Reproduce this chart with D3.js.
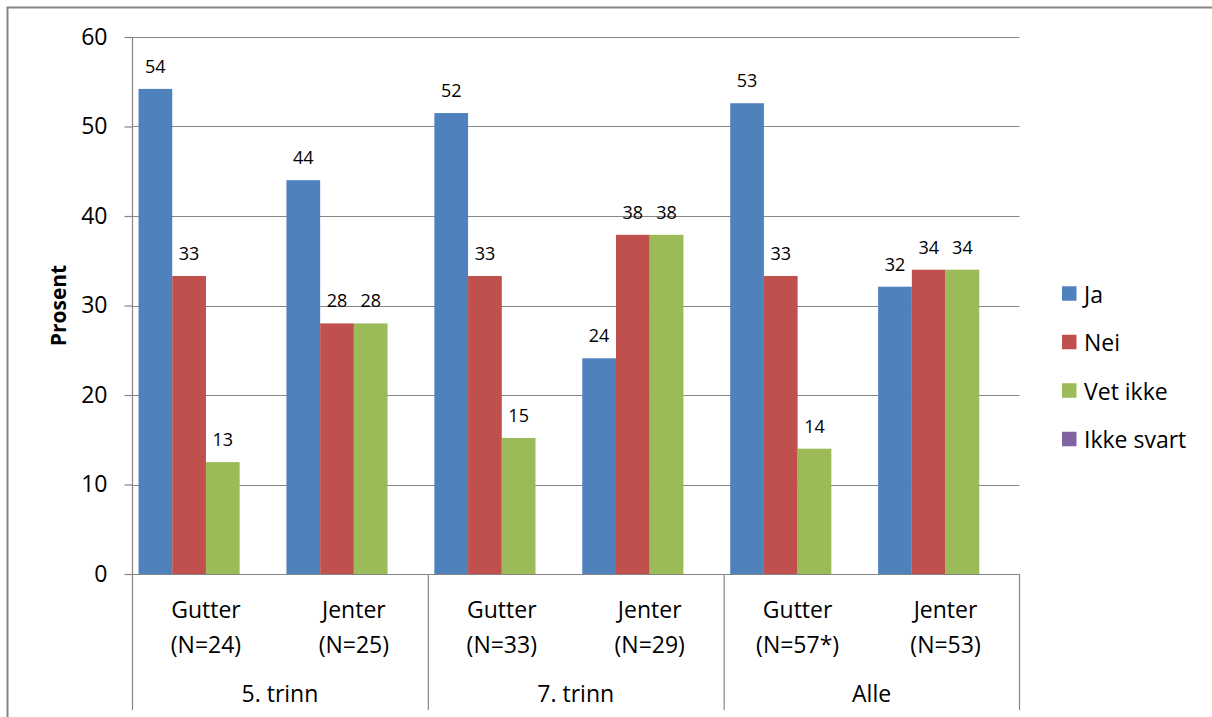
<!DOCTYPE html>
<html><head><meta charset="utf-8">
<script src="https://cdn.jsdelivr.net/npm/d3@7"></script>
<style>
html,body{margin:0;padding:0;background:#fff;}
svg{display:block;font-family:"Open Sans",sans-serif;}
</style></head><body>
<svg id="c" width="1212" height="717"></svg>
<script>
const groups = ["5. trinn", "7. trinn", "Alle"];
const subLine1 = ["Gutter", "Jenter", "Gutter", "Jenter", "Gutter", "Jenter"];
const subLine2 = ["(N=24)", "(N=25)", "(N=33)", "(N=29)", "(N=57*)", "(N=53)"];
const seriesNames = ["Ja", "Nei", "Vet ikke", "Ikke svart"];
const ja = [54.2, 44.0, 51.5, 24.1, 52.6, 32.1];
const nei = [33.3, 28.0, 33.3, 37.9, 33.3, 34.0];
const vetIkke = [12.5, 28.0, 15.2, 37.9, 14.0, 34.0];
const ikkeSvart = [0, 0, 0, 0, 0, 0];
const yTicks = [0, 10, 20, 30, 40, 50, 60];
const colors = ["#4F81BD", "#C0504D", "#9BBB59", "#8064A2"];

const seriesVals = [ja, nei, vetIkke, ikkeSvart];
const svg = d3.select("#c");
const L = 132, R = 1019.5, T = 37, B = 574;
const grid = "#868686";
const FONT = "'Open Sans',sans-serif";

// outer frame
svg.append("path").attr("d", `M7.5,717 V7.5 H1212`).attr("fill","none").attr("stroke",grid).attr("stroke-width",2);

const y = d3.scaleLinear().domain([0,60]).range([B,T]);
const x0 = d3.scaleBand().domain(d3.range(6)).range([L,R]).paddingInner(0).paddingOuter(0);
const bw = x0.bandwidth();
const x1 = d3.scaleBand().domain(d3.range(4)).range([0,bw]).paddingInner(0).paddingOuter(0.1936);

// gridlines
svg.append("g").selectAll("line").data(yTicks.filter(d=>d>0)).join("line")
  .attr("x1",L).attr("x2",R).attr("y1",d=>Math.round(y(d))+0.5).attr("y2",d=>Math.round(y(d))+0.5)
  .attr("stroke",grid).attr("stroke-width",1.2);

// y axis
const yAxis = d3.axisLeft(y).tickValues(yTicks).tickSize(8).tickPadding(17);
const ga = svg.append("g").attr("transform",`translate(${L+0.5},0)`).call(yAxis);
ga.select(".domain").remove();
ga.selectAll(".tick line").attr("stroke",grid).attr("stroke-width",1.2);
ga.selectAll(".tick text").attr("font-size",23).attr("fill","#000").style("font-family",FONT);
svg.append("line").attr("x1",L+0.5).attr("x2",L+0.5).attr("y1",T).attr("y2",710).attr("stroke",grid).attr("stroke-width",1.2);

// bars
seriesVals.forEach((vals,si)=>{
  svg.append("g").selectAll("rect").data(vals).join("rect")
    .attr("x",(d,i)=>x0(i)+x1(si)).attr("width",x1.bandwidth())
    .attr("y",d=>y(d)).attr("height",d=>B-y(d)).attr("fill",colors[si]);
  if (si<3) {
    svg.append("g").selectAll("text").data(vals).join("text")
      .attr("x",(d,i)=>x0(i)+x1(si)+x1.bandwidth()/2).attr("y",d=>y(d)-23)
      .attr("text-anchor","middle").attr("dominant-baseline","central")
      .attr("font-size",18).attr("fill","#000").text(d=>Math.round(d));
  }
});

// x axis baseline
svg.append("line").attr("x1",L).attr("x2",R).attr("y1",B+0.5).attr("y2",B+0.5).attr("stroke",grid).attr("stroke-width",1.2);
// group separators
const gx = d3.scaleBand().domain(groups).range([L,R]);
svg.append("g").selectAll("line").data(groups.slice(1).concat(["end"])).join("line")
  .attr("x1",(d,i)=>i<2?gx(d)+0.5:R).attr("x2",(d,i)=>i<2?gx(d)+0.5:R)
  .attr("y1",B).attr("y2",710).attr("stroke",grid).attr("stroke-width",1.2);

// category labels
svg.append("g").selectAll("text").data(subLine1).join("text")
  .attr("x",(d,i)=>x0(i)+bw/2).attr("y",609).attr("text-anchor","middle").attr("dominant-baseline","central")
  .attr("font-size",23).attr("fill","#000").text(d=>d);
svg.append("g").selectAll("text").data(subLine2).join("text")
  .attr("x",(d,i)=>x0(i)+bw/2).attr("y",644).attr("text-anchor","middle").attr("dominant-baseline","central")
  .attr("font-size",23).attr("fill","#000").text(d=>d);
svg.append("g").selectAll("text").data(groups).join("text")
  .attr("x",d=>gx(d)+gx.bandwidth()/2).attr("y",693).attr("text-anchor","middle").attr("dominant-baseline","central")
  .attr("font-size",23).attr("fill","#000").text(d=>d);

// y title
svg.append("text").attr("transform",`translate(58,${(T+B)/2}) rotate(-90)`)
  .attr("text-anchor","middle").attr("dominant-baseline","central")
  .attr("font-size",21).attr("font-weight","bold").attr("fill","#000").text("Prosent");

// legend
const lg = svg.append("g").selectAll("g").data(seriesNames).join("g")
  .attr("transform",(d,i)=>`translate(1062,${293.5+i*48.5})`);
lg.append("rect").attr("x",0).attr("y",-7.25).attr("width",14.5).attr("height",14.5).attr("fill",(d,i)=>colors[i]);
lg.append("text").attr("x",22).attr("y",0).attr("dominant-baseline","central")
  .attr("font-size",23).attr("fill","#000").text(d=>d);
</script>
</body></html>
